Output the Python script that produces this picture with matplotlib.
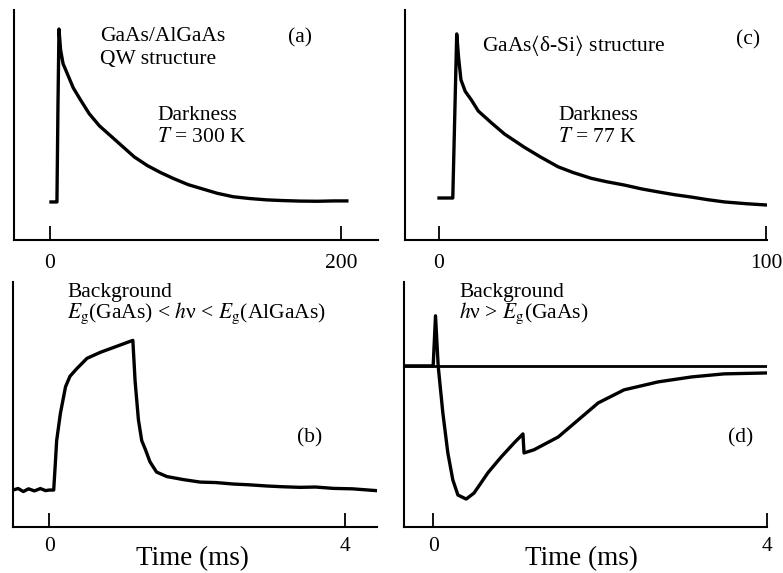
import matplotlib
matplotlib.use("Agg")
import matplotlib.pyplot as plt

plt.rcParams['font.family'] = ['Liberation Serif', 'DejaVu Serif']
plt.rcParams['mathtext.fontset'] = 'stix'

# ---------------- data ----------------
# (a) GaAs/AlGaAs QW, darkness, 300 K (time axis 0..200)
a_t = [0.7, 2, 3.5, 4.8, 5.5, 6.2, 7.3, 9, 12, 16, 21, 27, 34, 42, 50, 58, 67, 76,
       85, 95, 105, 115, 126, 137, 149, 160, 172, 184, 195, 204]
a_y = [0.0, 0.0, 0.0, 0.0, 0.55, 1.0, 0.88, 0.8, 0.74, 0.66, 0.59, 0.51, 0.44, 0.38,
       0.32, 0.26, 0.21, 0.17, 0.135, 0.10, 0.075, 0.05, 0.03, 0.02, 0.012, 0.008,
       0.005, 0.004, 0.006, 0.006]
a_ticks = [0, 200]

# (c) GaAs<delta-Si>, darkness, 77 K (time axis 0..100)
c_t = [0, 2, 4.2, 5.4, 6.0, 6.7, 8, 9.8, 12, 15.9, 20, 26, 31, 36.4, 41, 46.5, 51,
       56.6, 62, 67, 72, 77, 82, 87.2, 94, 100.3]
c_y = [0.0, 0.0, 0.0, 1.0, 0.85, 0.72, 0.65, 0.6, 0.53, 0.46, 0.39, 0.31, 0.25, 0.19,
       0.155, 0.12, 0.10, 0.079, 0.055, 0.037, 0.02, 0.006, -0.01, -0.024, -0.035, -0.043]
c_ticks = [0, 100]

# (b) background Eg(GaAs) < hv < Eg(AlGaAs) (time, ms)
b_t = [-0.49, -0.42, -0.35, -0.28, -0.2, -0.12, -0.05, 0.0, 0.06, 0.08, 0.10, 0.15,
       0.22, 0.28, 0.37, 0.51, 0.69, 0.91, 1.13, 1.16, 1.205, 1.25, 1.30, 1.36, 1.45,
       1.59, 1.81, 2.04, 2.25, 2.49, 2.7, 2.94, 3.15, 3.39, 3.6, 3.84, 4.1, 4.42]
b_y = [0.0, 0.01, -0.01, 0.008, -0.006, 0.01, -0.004, 0.0, 0.0, 0.16, 0.33, 0.51,
       0.69, 0.76, 0.81, 0.88, 0.92, 0.96, 1.0, 0.73, 0.47, 0.33, 0.27, 0.19, 0.12,
       0.09, 0.07, 0.053, 0.05, 0.04, 0.035, 0.027, 0.022, 0.018, 0.02, 0.011, 0.008, -0.004]
b_ticks = [0, 4]

# (d) background hv > Eg(GaAs) (time, ms)
d_t = [-0.35, -0.2, -0.05, 0.0, 0.028, 0.06, 0.116, 0.176, 0.236, 0.297, 0.396, 0.49,
       0.66, 0.816, 0.97, 1.077, 1.09, 1.21, 1.5, 1.74, 1.98, 2.29, 2.7, 3.1, 3.49, 4.01]
d_y = [0.0, 0.0, 0.0, 0.0, 0.376, 0.0, -0.353, -0.654, -0.857, -0.97, -1.0, -0.955,
       -0.8, -0.684, -0.579, -0.511, -0.654, -0.63, -0.534, -0.406, -0.278, -0.18,
       -0.12, -0.083, -0.06, -0.053]
d_ref = 0.0
d_ticks = [0, 4]

# ---------------- figure ----------------
W, H = 783, 573
fig = plt.figure(figsize=(W / 100, H / 100), dpi=100)
FS = 15.5


def add_ax(left, top, right, bottom):
    return fig.add_axes([left / W, 1 - bottom / H, (right - left) / W, (bottom - top) / H])


def style(ax, ticks, xlim, ylim, pad):
    ax.set_xlim(*xlim)
    ax.set_ylim(*ylim)
    for s in ('top', 'right'):
        ax.spines[s].set_visible(False)
    for s in ('left', 'bottom'):
        ax.spines[s].set_linewidth(1.5)
    ax.set_yticks([])
    ax.set_xticks(ticks)
    ax.set_xticklabels([str(t) for t in ticks])
    ax.tick_params(axis='x', direction='in', length=10, width=1.3, pad=pad,
                   labelsize=FS)


def txt(x, y, s, **kw):
    fig.text(x / W, 1 - y / H, s, fontsize=FS, va='baseline', ha='left', **kw)


def xlabel(ax, xc):
    ax.set_xlabel('Time (ms)', fontsize=19.5)
    ax.xaxis.label.set_va('baseline')
    ax.xaxis.set_label_coords(xc, -0.155)


lw = 2.4

ax_a = add_ax(14, 10, 378, 240)
ax_a.plot(a_t, a_y, color='black', lw=lw)
style(ax_a, a_ticks, (-24.7, 225.4), (-0.22, 1.11), 10)

ax_c = add_ax(405, 10, 767, 240)
ax_c.plot(c_t, c_y, color='black', lw=lw)
style(ax_c, c_ticks, (-10.4, 100.2), (-0.256, 1.146), 10)

ax_b = add_ax(13, 282, 377, 527)
ax_b.plot(b_t, b_y, color='black', lw=lw)
style(ax_b, b_ticks, (-0.49, 4.43), (-0.247, 1.39), 7)
xlabel(ax_b, 0.492)

ax_d = add_ax(404, 282, 767, 527)
ax_d.axhline(d_ref, color='black', lw=2.0)
ax_d.plot(d_t, d_y, color='black', lw=lw)
style(ax_d, d_ticks, (-0.35, 4.005), (-1.21, 0.63), 7)
xlabel(ax_d, 0.488)

# annotations
txt(100, 41, 'GaAs/AlGaAs')
txt(100, 64, 'QW structure')
txt(288, 42, '(a)')
txt(157, 120, 'Darkness')
txt(157, 142, r'$T$ = 300 K')

txt(482, 51, r'GaAs$\langle$δ-Si$\rangle$ structure')
txt(736, 44, '(c)')
txt(558, 120, 'Darkness')
txt(558, 142, r'$T$ = 77 K')

txt(67, 297, 'Background')
txt(67, 318, r'$E_{\mathrm{g}}$(GaAs) < $h$ν < $E_{\mathrm{g}}$(AlGaAs)')
txt(297, 442, '(b)')

txt(459, 297, 'Background')
txt(459, 318, r'$h$ν > $E_{\mathrm{g}}$(GaAs)')
txt(728, 442, '(d)')

fig.savefig('out.png', dpi=100)
